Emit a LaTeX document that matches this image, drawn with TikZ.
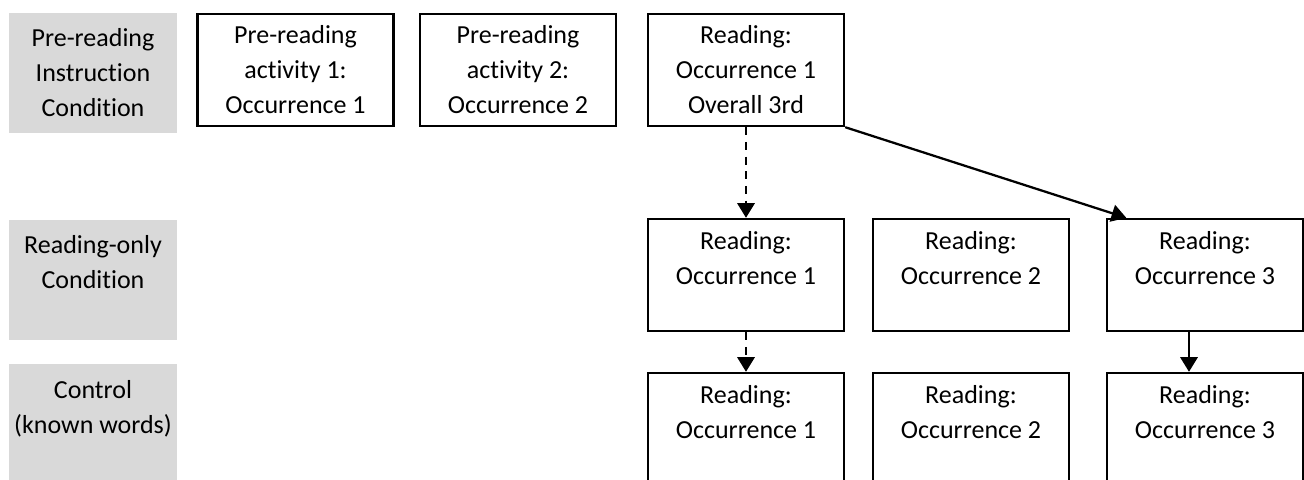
\documentclass[tikz,border=0pt]{standalone}
\usepackage{fontspec}
\setmainfont{Carlito}[Ligatures={NoCommon,NoContextual}, Contextuals=NoAlternate]
\usetikzlibrary{arrows.meta}
\definecolor{condgrey}{HTML}{D9D9D9}

\begin{document}
\begin{tikzpicture}[x=0.75pt, y=-0.75pt,
font=\fontsize{19.5}{26.25}\selectfont,
cond/.style={fill=condgrey, minimum width=126pt, minimum height=90pt, align=center, inner sep=0pt},
event/.style={draw, line width=1.8pt, minimum width=147pt, minimum height=84pt, align=center, inner sep=0pt},
link/.style={line width=1.7pt, -{Triangle[length=11pt, width=13pt]}},
later/.style={link, dash pattern=on 6pt off 5pt}]
\useasboundingbox (0,0) rectangle (1304,479);
\clip (0,0) rectangle (1304,479);
% conditions
\node[cond] (prec) at (93,73) {Pre-reading\\Instruction\\Condition};
\node[cond] (roc) at (93,279.5) {Reading-only\\Condition\\~};
\node[cond] (ctrl) at (93,424) {Control\\(known words)\\~};
% pre-reading instruction
\node[event] (pre1) at (295.5,70) {Pre-reading\\activity 1:\\Occurrence 1};
\node[event] (pre2) at (518,70) {Pre-reading\\activity 2:\\Occurrence 2};
\node[event] (read) at (746,70) {Reading:\\Occurrence 1\\Overall 3rd};
% reading only
\node[event] (ro1) at (746,275) {Reading:\\Occurrence 1\\~};
\node[event] (ro2) at (971,275) {Reading:\\Occurrence 2\\~};
\node[event] (ro3) at (1205,275) {Reading:\\Occurrence 3\\~};
% control
\node[event] (ct1) at (746,429) {Reading:\\Occurrence 1\\~};
\node[event] (ct2) at (971,429) {Reading:\\Occurrence 2\\~};
\node[event] (ct3) at (1205,429) {Reading:\\Occurrence 3\\~};
% links
\draw[later] (read.south) -- (ro1.north);
\draw[link] (read.south east) -- (ro3.144);
\draw[later] (ro1.south) -- (ct1.north);
\draw[link] ([xshift=-12pt]ro3.south) -- ([xshift=-12pt]ct3.north);
\end{tikzpicture}
\end{document}
